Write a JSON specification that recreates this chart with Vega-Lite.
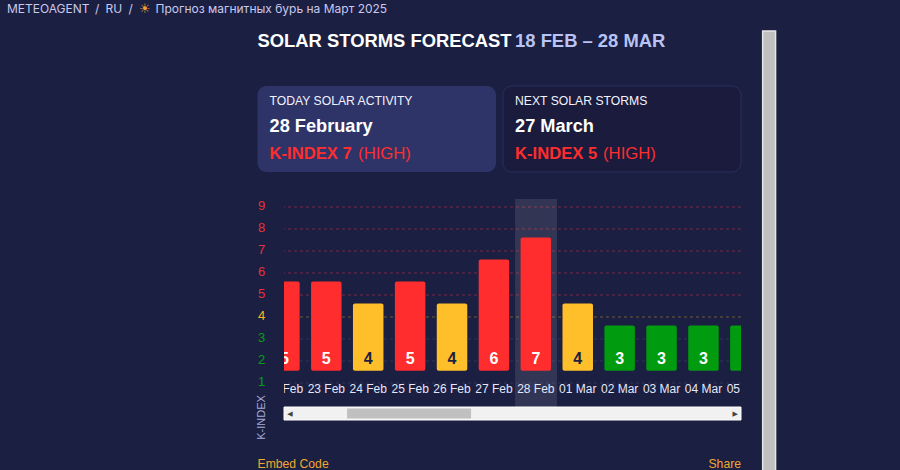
{"$schema":"https://vega.github.io/schema/vega-lite/v6.json","width":457,"height":208,"autosize":"none","padding":{"left":284,"top":199,"right":159,"bottom":63},"background":"#1b1f41","config":{"font":"Liberation Sans","view":{"stroke":null},"text":{"align":"left","baseline":"middle"}},"resolve":{"axis":{"x":"independent","y":"independent"}},
"datasets":{"days":[{"date":"2025-02-22T00:00:00Z","label":"22 Feb","k":5},{"date":"2025-02-23T00:00:00Z","label":"23 Feb","k":5},{"date":"2025-02-24T00:00:00Z","label":"24 Feb","k":4},{"date":"2025-02-25T00:00:00Z","label":"25 Feb","k":5},{"date":"2025-02-26T00:00:00Z","label":"26 Feb","k":4},{"date":"2025-02-27T00:00:00Z","label":"27 Feb","k":6},{"date":"2025-02-28T00:00:00Z","label":"28 Feb","k":7},{"date":"2025-03-01T00:00:00Z","label":"01 Mar","k":4},{"date":"2025-03-02T00:00:00Z","label":"02 Mar","k":3},{"date":"2025-03-03T00:00:00Z","label":"03 Mar","k":3},{"date":"2025-03-04T00:00:00Z","label":"04 Mar","k":3},{"date":"2025-03-05T00:00:00Z","label":"05 Mar","k":3}]},
"layer":[
{"data":{"values":[{"t":"METEOAGENT"}]},"mark":{"type":"text","font":"Inter","fontSize":12,"color":"#c9c9ee"},"encoding":{"text":{"field":"t"},"x":{"datum":{"year":2025,"month":2,"date":15,"hours":9,"minutes":6,"utc":true},"type":"temporal","axis":null,"scale":{"nice":false,"padding":0,"domain":[{"year":2025,"month":2,"date":21,"hours":23,"minutes":46,"utc":true},{"year":2025,"month":3,"date":4,"hours":21,"minutes":30,"utc":true}]}},"y":{"datum":18,"type":"quantitative","axis":null,"scale":{"domain":[-0.0909,9.3636],"nice":false,"zero":false}}}},
{"data":{"values":[{"t":"/"}]},"mark":{"type":"text","font":"Inter","fontSize":12,"color":"#c9c9ee"},"encoding":{"text":{"field":"t"},"x":{"datum":{"year":2025,"month":2,"date":17,"hours":11,"minutes":30,"utc":true},"type":"temporal","axis":null},"y":{"datum":18,"type":"quantitative","axis":null}}},
{"data":{"values":[{"t":"RU"}]},"mark":{"type":"text","font":"Inter","fontSize":12,"color":"#c9c9ee"},"encoding":{"text":{"field":"t"},"x":{"datum":{"year":2025,"month":2,"date":17,"hours":17,"minutes":30,"utc":true},"type":"temporal","axis":null},"y":{"datum":18,"type":"quantitative","axis":null}}},
{"data":{"values":[{"t":"/"}]},"mark":{"type":"text","font":"Inter","fontSize":12,"color":"#c9c9ee"},"encoding":{"text":{"field":"t"},"x":{"datum":{"year":2025,"month":2,"date":18,"hours":6,"minutes":42,"utc":true},"type":"temporal","axis":null},"y":{"datum":18,"type":"quantitative","axis":null}}},
{"data":{"values":[{"t":"☀"}]},"mark":{"type":"text","font":"DejaVu Sans","fontSize":13,"color":"#f0a030"},"encoding":{"text":{"field":"t"},"x":{"datum":{"year":2025,"month":2,"date":18,"hours":12,"minutes":42,"utc":true},"type":"temporal","axis":null},"y":{"datum":18,"type":"quantitative","axis":null}}},
{"data":{"values":[{"t":"Прогноз магнитных бурь на Март 2025"}]},"mark":{"type":"text","font":"Inter","fontSize":12,"color":"#c9c9ee"},"encoding":{"text":{"field":"t"},"x":{"datum":{"year":2025,"month":2,"date":18,"hours":22,"minutes":12,"utc":true},"type":"temporal","axis":null},"y":{"datum":18,"type":"quantitative","axis":null}}},
{"data":{"values":[{"t":"SOLAR STORMS FORECAST"}]},"mark":{"type":"text","fontSize":18.4,"fontWeight":"bold","color":"#ffffff"},"encoding":{"text":{"field":"t"},"x":{"datum":{"year":2025,"month":2,"date":21,"hours":8,"minutes":36,"utc":true},"type":"temporal","axis":null},"y":{"datum":16.545,"type":"quantitative","axis":null}}},
{"data":{"values":[{"t":"18 FEB – 28 MAR"}]},"mark":{"type":"text","fontSize":18.4,"fontWeight":"bold","color":"#b9c3f5"},"encoding":{"text":{"field":"t"},"x":{"datum":{"year":2025,"month":2,"date":27,"hours":12,"minutes":6,"utc":true},"type":"temporal","axis":null},"y":{"datum":16.545,"type":"quantitative","axis":null}}},
{"data":{"values":[{"card":"today"}]},"mark":{"type":"rect","cornerRadius":9,"fill":"#2e3468"},"encoding":{"x":{"datum":{"year":2025,"month":2,"date":21,"hours":8,"minutes":36,"utc":true},"type":"temporal","axis":null},"x2":{"datum":{"year":2025,"month":2,"date":27,"hours":1,"minutes":12,"utc":true}},"y":{"datum":14.5,"type":"quantitative","axis":null},"y2":{"datum":10.591}}},
{"data":{"values":[{"card":"next"}]},"mark":{"type":"rect","cornerRadius":9,"fill":"#1a1b3d","stroke":"#2a2f63","strokeWidth":1},"encoding":{"x":{"datum":{"year":2025,"month":2,"date":27,"hours":5,"minutes":12,"utc":true},"type":"temporal","axis":null},"x2":{"datum":{"year":2025,"month":3,"date":4,"hours":21,"minutes":30,"utc":true}},"y":{"datum":14.5,"type":"quantitative","axis":null},"y2":{"datum":10.591}}},
{"data":{"values":[{"t":"TODAY SOLAR ACTIVITY"}]},"mark":{"type":"text","fontSize":12.2,"color":"#f2f3fd"},"encoding":{"text":{"field":"t"},"x":{"datum":{"year":2025,"month":2,"date":21,"hours":15,"minutes":30,"utc":true},"type":"temporal","axis":null},"y":{"datum":13.8,"type":"quantitative","axis":null}}},
{"data":{"values":[{"t":"28 February"}]},"mark":{"type":"text","fontSize":18.2,"fontWeight":"bold","color":"#ffffff"},"encoding":{"text":{"field":"t"},"x":{"datum":{"year":2025,"month":2,"date":21,"hours":15,"minutes":30,"utc":true},"type":"temporal","axis":null},"y":{"datum":12.64,"type":"quantitative","axis":null}}},
{"data":{"values":[{"t":"K-INDEX 7"}]},"mark":{"type":"text","fontSize":16.6,"fontWeight":"bold","color":"#ff2d2d"},"encoding":{"text":{"field":"t"},"x":{"datum":{"year":2025,"month":2,"date":21,"hours":15,"minutes":30,"utc":true},"type":"temporal","axis":null},"y":{"datum":11.39,"type":"quantitative","axis":null}}},
{"data":{"values":[{"t":"(HIGH)"}]},"mark":{"type":"text","fontSize":16.7,"color":"#ff2d2d"},"encoding":{"text":{"field":"t"},"x":{"datum":{"year":2025,"month":2,"date":23,"hours":18,"minutes":12,"utc":true},"type":"temporal","axis":null},"y":{"datum":11.39,"type":"quantitative","axis":null}}},
{"data":{"values":[{"t":"NEXT SOLAR STORMS"}]},"mark":{"type":"text","fontSize":12.2,"color":"#f2f3fd"},"encoding":{"text":{"field":"t"},"x":{"datum":{"year":2025,"month":2,"date":27,"hours":12,"minutes":6,"utc":true},"type":"temporal","axis":null},"y":{"datum":13.8,"type":"quantitative","axis":null}}},
{"data":{"values":[{"t":"27 March"}]},"mark":{"type":"text","fontSize":18.2,"fontWeight":"bold","color":"#ffffff"},"encoding":{"text":{"field":"t"},"x":{"datum":{"year":2025,"month":2,"date":27,"hours":12,"minutes":6,"utc":true},"type":"temporal","axis":null},"y":{"datum":12.64,"type":"quantitative","axis":null}}},
{"data":{"values":[{"t":"K-INDEX 5"}]},"mark":{"type":"text","fontSize":16.6,"fontWeight":"bold","color":"#ff2d2d"},"encoding":{"text":{"field":"t"},"x":{"datum":{"year":2025,"month":2,"date":27,"hours":12,"minutes":6,"utc":true},"type":"temporal","axis":null},"y":{"datum":11.39,"type":"quantitative","axis":null}}},
{"data":{"values":[{"t":"(HIGH)"}]},"mark":{"type":"text","fontSize":16.7,"color":"#ff2d2d"},"encoding":{"text":{"field":"t"},"x":{"datum":{"year":2025,"month":3,"date":1,"hours":14,"minutes":30,"utc":true},"type":"temporal","axis":null},"y":{"datum":11.39,"type":"quantitative","axis":null}}},
{"data":{"values":[{"k":1},{"k":2},{"k":3},{"k":4},{"k":5},{"k":6},{"k":7},{"k":8},{"k":9}]},"mark":{"type":"rule","strokeDash":[3,3],"strokeWidth":1},"encoding":{"y":{"field":"k","type":"quantitative","axis":null},"color":{"condition":[{"test":"datum.k>=5","value":"#7a2b48"},{"test":"datum.k===4","value":"#6e5c3a"}],"value":"#30355c"}}},
{"data":{"values":[{"part":"highlight"}]},"mark":{"type":"rect","fill":"#ffffff","opacity":0.1},"encoding":{"x":{"datum":{"year":2025,"month":2,"date":27,"hours":12,"minutes":6,"utc":true},"type":"temporal","axis":null},"x2":{"datum":{"year":2025,"month":2,"date":28,"hours":12,"minutes":6,"utc":true}},"y":{"datum":-0.0909,"type":"quantitative","axis":null},"y2":{"datum":9.3636}}},
{"data":{"name":"days"},"mark":{"type":"bar","clip":true,"width":30.5,"cornerRadius":2,"yOffset":-13.5,"y2Offset":-12.3},"encoding":{"x":{"field":"date","type":"temporal","axis":null},"y":{"field":"k","type":"quantitative","axis":{"title":"K-INDEX","titleFontSize":11,"titleFontWeight":"normal","titleColor":"#a8acd8","titleAngle":270,"titleX":-23,"titleY":218,"titleAlign":"center","titleBaseline":"middle","values":[1,2,3,4,5,6,7,8,9],"ticks":false,"domain":false,"grid":false,"labelFontSize":13,"labelAlign":"center","labelPadding":23,"labelOffset":-1.5,"labelColor":{"condition":[{"test":"datum.value>=5","value":"#e8303a"},{"test":"datum.value===4","value":"#ffb020"}],"value":"#00a010"}}},"y2":{"datum":1},"color":{"field":"k","type":"ordinal","legend":null,"scale":{"domain":[3,4,5,6,7],"range":["#009b0f","#ffbf2a","#ff2d2d","#ff2d2d","#ff2d2d"]}}}},
{"data":{"name":"days"},"mark":{"type":"text","clip":true,"align":"center","fontSize":16,"fontWeight":"bold"},"encoding":{"x":{"field":"date","type":"temporal","axis":null},"y":{"datum":2.08,"type":"quantitative","axis":null},"text":{"field":"k","type":"quantitative"},"color":{"condition":{"test":"datum.k===4","value":"#1b1f41"},"value":"#ffffff"}}},
{"data":{"name":"days"},"mark":{"type":"text","clip":true,"align":"center","fontSize":12,"color":"#e6e8fa"},"encoding":{"x":{"field":"date","type":"temporal","axis":null},"y":{"datum":0.714,"type":"quantitative","axis":null},"text":{"field":"label","type":"nominal"}}},
{"data":{"values":[{"part":"track"}]},"mark":{"type":"rect","fill":"#f1f1f1","stroke":"#ffffff","strokeWidth":1},"encoding":{"x":{"datum":{"year":2025,"month":2,"date":21,"hours":23,"minutes":46,"utc":true},"type":"temporal","axis":null},"x2":{"datum":{"year":2025,"month":3,"date":4,"hours":21,"minutes":30,"utc":true}},"y":{"datum":-0.0909,"type":"quantitative","axis":null},"y2":{"datum":-0.682}}},
{"data":{"values":[{"part":"thumb"}]},"mark":{"type":"rect","fill":"#c0c0c0"},"encoding":{"x":{"datum":{"year":2025,"month":2,"date":23,"hours":11,"minutes":54,"utc":true},"type":"temporal","axis":null},"x2":{"datum":{"year":2025,"month":2,"date":26,"hours":10,"minutes":54,"utc":true}},"y":{"datum":-0.159,"type":"quantitative","axis":null},"y2":{"datum":-0.614}}},
{"data":{"values":[{"t":"◀"}]},"mark":{"type":"text","align":"center","font":"DejaVu Sans","fontSize":7,"color":"#444444"},"encoding":{"text":{"field":"t"},"x":{"datum":{"year":2025,"month":2,"date":22,"hours":3,"minutes":12,"utc":true},"type":"temporal","axis":null},"y":{"datum":-0.409,"type":"quantitative","axis":null}}},
{"data":{"values":[{"t":"▶"}]},"mark":{"type":"text","align":"center","font":"DejaVu Sans","fontSize":7,"color":"#444444"},"encoding":{"text":{"field":"t"},"x":{"datum":{"year":2025,"month":3,"date":4,"hours":18,"minutes":6,"utc":true},"type":"temporal","axis":null},"y":{"datum":-0.409,"type":"quantitative","axis":null}}},
{"data":{"values":[{"t":"Embed Code"}]},"mark":{"type":"text","fontSize":12.2,"color":"#f0a830"},"encoding":{"text":{"field":"t"},"x":{"datum":{"year":2025,"month":2,"date":21,"hours":8,"minutes":36,"utc":true},"type":"temporal","axis":null},"y":{"datum":-2.682,"type":"quantitative","axis":null}}},
{"data":{"values":[{"t":"Share"}]},"mark":{"type":"text","align":"right","fontSize":12.2,"color":"#f0a830"},"encoding":{"text":{"field":"t"},"x":{"datum":{"year":2025,"month":3,"date":4,"hours":21,"minutes":30,"utc":true},"type":"temporal","axis":null},"y":{"datum":-2.682,"type":"quantitative","axis":null}}},
{"data":{"values":[{"part":"page scrollbar"}]},"mark":{"type":"rect","fill":"#c0c0c0","stroke":"#e6e6e6","strokeWidth":1.5},"encoding":{"x":{"datum":{"year":2025,"month":3,"date":5,"hours":9,"minutes":54,"utc":true},"type":"temporal","axis":null},"x2":{"datum":{"year":2025,"month":3,"date":5,"hours":17,"minutes":18,"utc":true}},"y":{"datum":17,"type":"quantitative","axis":null},"y2":{"datum":-3.1}}}
]}
